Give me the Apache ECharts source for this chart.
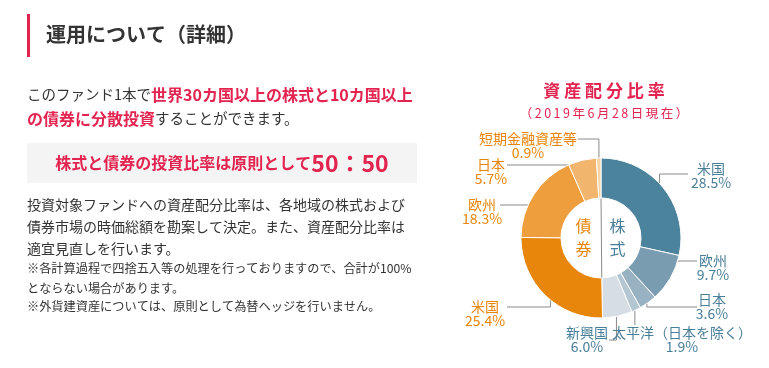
<!DOCTYPE html>
<html><head><meta charset="utf-8">
<script src="https://cdn.jsdelivr.net/npm/echarts@6/dist/echarts.min.js"></script>
<style>html,body{margin:0;padding:0;background:#fff}#c{width:769px;height:368px}</style>
</head><body><div id="c"></div>
<script>
// ---- data ----
const categories = ['米国','欧州','日本','太平洋（日本を除く）','新興国','米国','欧州','日本','短期金融資産等'];
const values = [28.5, 9.7, 3.6, 1.9, 6.0, 25.4, 18.3, 5.7, 0.9];
const groups = ['株式','株式','株式','株式','株式','債券','債券','債券','債券'];
const groupNames = ['債券','株式'];
const headline = '運用について（詳細）';
const introPlain1 = 'このファンド1本で';
const introBold1 = '世界30カ国以上の株式と10カ国以上';
const introBold2 = 'の債券に分散投資';
const introPlain2 = 'することができます。';
const boxText = '株式と債券の投資比率は原則として';
const boxRatio = '50：50';
const bodyLines = ['投資対象ファンドへの資産配分比率は、各地域の株式および','債券市場の時価総額を勘案して決定。また、資産配分比率は','適宜見直しを行います。'];
const noteLines = ['※各計算過程で四捨五入等の処理を行っておりますので、合計が100%','とならない場合があります。','※外貨建資産については、原則として為替ヘッジを行いません。'];
const chartTitle = '資産配分比率';
const chartSub = '（2019年6月28日現在）';

// ---- style ----
const FONT = '"Noto Sans CJK JP","Noto Sans",sans-serif';
const RED = '#e32350';
const TXT = '#333333';
const STOCK_TXT = '#4a7f9a';
const BOND_TXT = '#e8850b';
const sliceColors = ['#4b829c','#7a9cb1','#99b2c2','#b4c6d1','#d6dde4','#e8850b','#ee9e3c','#f2b56e','#f7d3a5'];
const CX = 601, CY = 238, R_IN = 40, R_OUT = 80;
// label layout: text center, start radius, elbow y, end x
const LAYOUT = [
  {tx:711, ty:175.5, r:75, ey:174, ex:688},
  {tx:713, ty:268, r:73, ey:261, ex:697},
  {tx:712, ty:307, r:78, ey:307, ex:697},
  {tx:682, ty:340, r:77, ey:325, ex:null},
  {tx:587, ty:340, r:75, ey:340, ex:609},
  {tx:485, ty:314, r:72, ey:307, ex:507},
  {tx:482, ty:212, r:64, ey:205, ex:500},
  {tx:491, ty:172, r:67, ey:165, ex:507},
  {tx:528, ty:146, r:73, ey:139, ex:578}
];
const total = values.reduce((a,b)=>a+b,0);
const midAngles = [];
{ let acc = 0; values.forEach(v => { midAngles.push((acc + v/2)/total*2*Math.PI); acc += v; }); }
let endStock = 0; values.forEach((v,i)=>{ if(groups[i]==='株式') endStock += v; });
const divAng = endStock/total*2*Math.PI;

function spaced(s, sep){ return s.split('').join(sep); }

const chart = echarts.init(document.getElementById('c'), null, {renderer:'canvas'});
chart.setOption({
  animation:false,
  backgroundColor:'#ffffff',
  series:[{
    type:'pie',
    center:[CX, CY],
    radius:[R_IN, R_OUT],
    startAngle:90,
    clockwise:true,
    avoidLabelOverlap:false,
    silent:true,
    emphasis:{disabled:true},
    itemStyle:{borderColor:'#ffffff', borderWidth:1},
    label:{show:true, position:'outside', fontFamily:FONT, fontSize:14, lineHeight:14,
      formatter: p => p.name + '\n' + Number(p.value).toFixed(1) + '%'},
    labelLine:{show:true, lineStyle:{color:'#8a8a8a', width:1}},
    labelLayout: function(p){
      const i = p.dataIndex, L = LAYOUT[i], a = midAngles[i];
      const sx = CX + L.r*Math.sin(a), sy = CY - L.r*Math.cos(a);
      const ex = L.ex === null ? sx : L.ex;
      return {x:L.tx, y:L.ty, align:'center', verticalAlign:'middle',
        labelLinePoints:[[sx,sy],[sx,L.ey],[ex,L.ey]]};
    },
    data: categories.map((c,i)=>({name:c, value:values[i],
      itemStyle:{color:sliceColors[i]},
      label:{color: groups[i]==='株式' ? STOCK_TXT : BOND_TXT}}))
  }],
  graphic:[
    {type:'rect', shape:{x:27,y:14,width:3,height:43}, style:{fill:RED}},
    {type:'text', x:46, y:34, style:{text:headline, font:'bold 20px '+FONT, fill:TXT, verticalAlign:'middle'}},
    {type:'text', x:27, y:94.5, style:{text:'{p|'+introPlain1+'}{b|'+introBold1+'}', verticalAlign:'middle',
      rich:{p:{font:'14.5px '+FONT, fill:TXT}, b:{font:'bold 16px '+FONT, fill:RED}}}},
    {type:'text', x:27, y:118.5, style:{text:'{b|'+introBold2+'}{p|'+introPlain2+'}', verticalAlign:'middle',
      rich:{p:{font:'14.5px '+FONT, fill:TXT}, b:{font:'bold 16px '+FONT, fill:RED}}}},
    {type:'rect', shape:{x:27,y:143,width:390,height:40}, style:{fill:'#f4f4f4'}},
    {type:'text', x:222, y:163, style:{text:'{a|'+boxText+'}{b|'+boxRatio+'}', align:'center', verticalAlign:'middle',
      rich:{a:{font:'bold 16px '+FONT, fill:RED}, b:{font:'bold 23px '+FONT, fill:RED}}}},
    ...bodyLines.map((t,i)=>({type:'text', x:27, y:[205,226.5,248.5][i], style:{text:t, font:'14px '+FONT, fill:TXT, verticalAlign:'middle'}})),
    ...noteLines.map((t,i)=>({type:'text', x:27, y:[268.5,288,306.5][i], style:{text:t, font:'12.2px '+FONT, fill:TXT, verticalAlign:'middle'}})),
    {type:'text', x:604, y:91, style:{text:spaced(chartTitle,' '), font:'bold 17px '+FONT, fill:RED, align:'center', verticalAlign:'middle'}},
    {type:'text', x:604, y:113, style:{text:spaced(chartSub,'\u2009'), font:'12.5px '+FONT, fill:RED, align:'center', verticalAlign:'middle'}},
    {type:'line', shape:{x1:CX, y1:CY-R_IN-1, x2:CX+(R_IN+1)*Math.sin(divAng), y2:CY-(R_IN+1)*Math.cos(divAng)}, style:{stroke:'#8a8a8a', lineWidth:1}},
    {type:'text', x:583.5, y:226, style:{text:groupNames[0][0], font:'16px '+FONT, fill:BOND_TXT, align:'center', verticalAlign:'middle'}},
    {type:'text', x:583.5, y:249, style:{text:groupNames[0][1], font:'16px '+FONT, fill:BOND_TXT, align:'center', verticalAlign:'middle'}},
    {type:'text', x:617.5, y:226, style:{text:groupNames[1][0], font:'16px '+FONT, fill:STOCK_TXT, align:'center', verticalAlign:'middle'}},
    {type:'text', x:617.5, y:249, style:{text:groupNames[1][1], font:'16px '+FONT, fill:STOCK_TXT, align:'center', verticalAlign:'middle'}}
  ]
});
</script></body></html>
